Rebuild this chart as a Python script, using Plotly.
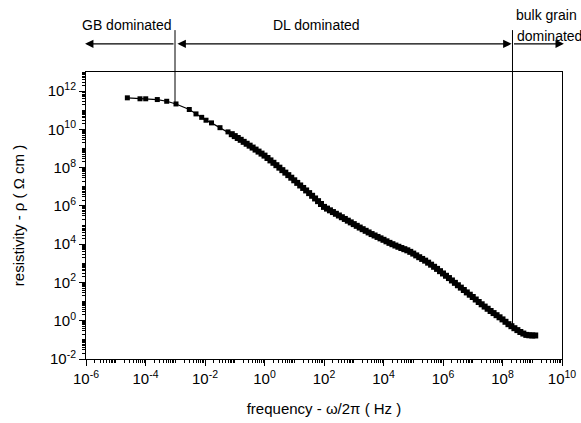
import plotly.graph_objects as go

# Datos (exponentes log10)
# puntos dispersos a baja frecuencia
log_f_low = [-4.61, -4.185, -3.993, -3.603, -3.287, -2.975, -2.528, -2.303,
             -2.111, -1.966, -1.782, -1.496, -1.227]
log_rho_low = [11.65, 11.60, 11.60, 11.56, 11.47, 11.33, 11.04, 10.81,
               10.63, 10.48, 10.34, 10.09, 9.87]

# zona densa
log_f_high = [-1.1, -1.0, -0.9, -0.8, -0.7, -0.6, -0.5, -0.4, -0.3, -0.2, -0.1,
              0.0, 0.1, 0.2, 0.3, 0.4, 0.5, 0.6, 0.7, 0.8, 0.9,
              1.0, 1.1, 1.2, 1.3, 1.4, 1.5, 1.6, 1.7, 1.8, 1.9,
              2.0, 2.1, 2.2, 2.3, 2.4, 2.5, 2.6, 2.7, 2.8, 2.9,
              3.0, 3.1, 3.2, 3.3, 3.4, 3.5, 3.6, 3.7, 3.8, 3.9,
              4.0, 4.1, 4.2, 4.3, 4.4, 4.5, 4.6, 4.7, 4.8, 4.9,
              5.0, 5.1, 5.2, 5.3, 5.4, 5.5, 5.6, 5.7, 5.8, 5.9,
              6.0, 6.1, 6.2, 6.3, 6.4, 6.5, 6.6, 6.7, 6.8, 6.9,
              7.0, 7.1, 7.2, 7.3, 7.4, 7.5, 7.6, 7.7, 7.8, 7.9,
              8.0, 8.1, 8.2, 8.3, 8.4, 8.5, 8.6, 8.7, 8.8, 8.9,
              9.0, 9.1]
log_rho_high = [9.75, 9.65, 9.55, 9.455, 9.35, 9.25, 9.15, 9.05, 8.945, 8.84, 8.735,
                8.63, 8.505, 8.38, 8.255, 8.13, 8.0, 7.87, 7.74, 7.61, 7.475,
                7.34, 7.205, 7.07, 6.94, 6.81, 6.67, 6.53, 6.39, 6.25, 6.10,
                5.95, 5.86, 5.77, 5.68, 5.59, 5.50, 5.41, 5.32, 5.23, 5.14,
                5.05, 4.96, 4.87, 4.785, 4.70, 4.615, 4.53, 4.455, 4.38, 4.305,
                4.23, 4.15, 4.07, 4.00, 3.93, 3.865, 3.80, 3.74, 3.68, 3.60,
                3.51, 3.415, 3.32, 3.23, 3.14, 3.035, 2.93, 2.82, 2.71, 2.59,
                2.47, 2.35, 2.23, 2.105, 1.98, 1.855, 1.73, 1.605, 1.48, 1.36,
                1.24, 1.11, 0.98, 0.86, 0.74, 0.625, 0.51, 0.40, 0.29, 0.18,
                0.07, -0.055, -0.18, -0.285, -0.39, -0.49, -0.59, -0.67, -0.74, -0.76,
                -0.77, -0.77]

# etiquetas de los ejes
x_exp = [-6, -4, -2, 0, 2, 4, 6, 8, 10]
y_exp = [-2, 0, 2, 4, 6, 8, 10, 12]

freq = [10 ** v for v in log_f_low + log_f_high]
rho = [10 ** v for v in log_rho_low + log_rho_high]
tam = [5] * len(log_f_low) + [6] * len(log_f_high)

FONT = "Arial, Liberation Sans, sans-serif"


def menores(e0, e1):
    # marcas menores: 1..9 x 10^n
    return [m * 10 ** e for e in range(e0, e1) for m in range(1, 10)]


fig = go.Figure()
fig.add_trace(go.Scatter(x=freq, y=rho, mode="lines+markers",
                         line=dict(color="black", width=1.2),
                         marker=dict(symbol="square", size=tam, color="black",
                                     opacity=1, line=dict(width=0)),
                         showlegend=False))

eje = dict(type="log", tickmode="array", exponentformat="power",
           showline=True, linecolor="black", linewidth=1, mirror=True,
           ticks="outside", ticklen=6, tickcolor="black", showgrid=False,
           zeroline=False, automargin=False,
           tickfont=dict(size=15, color="black"))

fig.update_layout(
    width=581, height=423,
    margin=dict(l=86, r=19, t=72, b=64),
    paper_bgcolor="white", plot_bgcolor="white",
    font=dict(family=FONT, color="black"),
    xaxis=dict(eje, range=[-6, 10],
               tickvals=[10 ** e for e in x_exp],
               ticktext=["10<sup>%d</sup>" % e for e in x_exp],
               minor=dict(tickmode="array", tickvals=menores(-6, 10), ticks="outside",
                          ticklen=3, tickcolor="black", showgrid=False),
               title=dict(text="frequency - ω/2π ( Hz )", font=dict(size=15), standoff=17)),
    yaxis=dict(eje, range=[-2, 13],
               tickvals=[10 ** e for e in y_exp],
               ticktext=["10<sup>%d</sup>" % e for e in y_exp],
               minor=dict(tickmode="array", tickvals=menores(-2, 13), ticks="outside",
                          ticklen=3, tickcolor="black", showgrid=False),
               title=dict(text="resistivity - ρ ( Ω cm )", font=dict(size=15), standoff=19)),
)

# líneas verticales que separan las regiones
x_gb = 0.187
x_bulk = 0.896
y_flecha = 1.098
fig.add_shape(type="line", xref="paper", yref="paper", x0=x_gb, x1=x_gb,
              y0=1.146, y1=0.888, line=dict(color="black", width=1))
fig.add_shape(type="line", xref="paper", yref="paper", x0=x_bulk, x1=x_bulk,
              y0=1.146, y1=0.115, line=dict(color="black", width=1))

# flechas
flecha = dict(xref="paper", yref="paper", showarrow=True, arrowhead=2, arrowsize=1.4,
              arrowwidth=1.2, arrowcolor="black", text="", axref="pixel", ayref="pixel")
fig.add_annotation(flecha, x=-0.002, y=y_flecha, ax=(x_gb + 0.002) * 476, ay=0)
fig.add_annotation(flecha, x=x_bulk - 0.002, y=y_flecha,
                   ax=-(x_bulk - x_gb - 0.004) * 476, ay=0, arrowside="end+start")
fig.add_annotation(flecha, x=1.004, y=y_flecha, ax=-(1.004 - x_bulk) * 476, ay=0)

# textos
txt = dict(xref="paper", yref="paper", showarrow=False, yanchor="middle",
           font=dict(size=14, color="black"))
fig.add_annotation(txt, x=0.086, y=1.164, text="GB dominated", xanchor="center")
fig.add_annotation(txt, x=0.485, y=1.164, text="DL dominated", xanchor="center")
fig.add_annotation(txt, x=0.900, y=1.198, text="bulk grain", xanchor="left")
fig.add_annotation(txt, x=0.902, y=1.124, text="dominated", xanchor="left")

# sin margen del <body> para que la figura empiece en (0, 0)
fig.write_html("out.html", config={"displayModeBar": False},
               post_script="document.body.style.margin='0';")
